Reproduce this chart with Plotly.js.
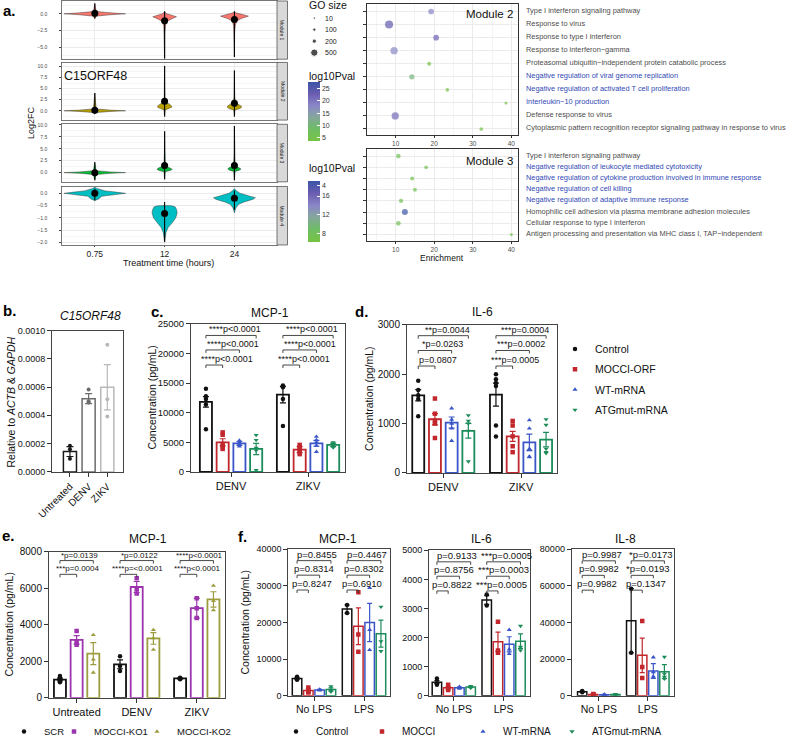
<!DOCTYPE html>
<html><head><meta charset="utf-8">
<script src="https://cdn.plot.ly/plotly-3.0.1.min.js"></script>
<style>html,body{margin:0;padding:0;background:#fff}</style>
</head><body><div id="chart" style="width:796px;height:746px"></div>
<script>
// ================= DATA =================
// ---- Panel a: violins (logFC level, half-width in category units) ----
const timeLabels = ['0.75', '12', '24'];
const moduleNames = ['Module 1', 'Module 2', 'Module 3', 'Module 4'];
const moduleColors = ['#F8766D', '#B79F00', '#00BA38', '#00BFC4'];

const m1T075Lv = [-0.8, -0.35, -0.15, 0, 0.15, 0.35, 1.5];
const m1T075Hw = [0, 0.02, 0.22, 0.44, 0.22, 0.02, 0];
const m1T12Lv = [-7.0, -3.0, -1.8, -1.2, -0.8, -0.45, -0.2, 0.05, 0.4];
const m1T12Hw = [0, 0.003, 0.012, 0.03, 0.09, 0.17, 0.1, 0.02, 0];
const m1T24Lv = [-6.5, -3.0, -1.8, -1.1, -0.7, -0.35, -0.1, 0.15, 0.4];
const m1T24Hw = [0, 0.003, 0.012, 0.03, 0.1, 0.2, 0.12, 0.02, 0];
const m2T075Lv = [-0.7, -0.4, -0.15, 0, 0.15, 0.4, 4.0];
const m2T075Hw = [0, 0.02, 0.22, 0.44, 0.22, 0.02, 0];
const m2T12Lv = [-1.3, 0.2, 0.5, 0.8, 1.1, 1.5, 2.0, 3.0, 5.0, 10.1];
const m2T12Hw = [0, 0.01, 0.06, 0.1, 0.1, 0.07, 0.02, 0.006, 0.003, 0];
const m2T24Lv = [-1.3, 0.2, 0.45, 0.75, 1.05, 1.4, 1.9, 3.0, 5.0, 9.1];
const m2T24Hw = [0, 0.01, 0.07, 0.1, 0.1, 0.06, 0.02, 0.006, 0.003, 0];
const m3T075Lv = [-1.6, -0.4, -0.15, 0, 0.15, 0.4, 2.2];
const m3T075Hw = [0, 0.02, 0.22, 0.44, 0.22, 0.02, 0];
const m3T12Lv = [-1.4, 0.2, 0.45, 0.7, 0.95, 1.3, 2.0, 4.0, 8.7];
const m3T12Hw = [0, 0.01, 0.08, 0.11, 0.09, 0.035, 0.01, 0.003, 0];
const m3T24Lv = [-1.6, 0.25, 0.5, 0.75, 1.0, 1.3, 2.0, 4.0, 9.8];
const m3T24Hw = [0, 0.01, 0.07, 0.095, 0.08, 0.035, 0.01, 0.003, 0];
const m4T075Lv = [-0.3, -0.22, -0.12, -0.05, 0, 0.05, 0.1, 0.2, 0.25];
const m4T075Hw = [0, 0.06, 0.1, 0.3, 0.44, 0.3, 0.15, 0.03, 0];
const m4T12Lv = [-2.0, -1.6, -1.4, -1.2, -1.0, -0.8, -0.65, -0.55, -0.51, -0.5];
const m4T12Hw = [0, 0.02, 0.05, 0.11, 0.16, 0.18, 0.17, 0.15, 0.1, 0];
const m4T24Lv = [-0.8, -0.6, -0.45, -0.35, -0.25, -0.18, -0.1, 0, 0.1, 0.19];
const m4T24Hw = [0, 0.02, 0.06, 0.14, 0.26, 0.3, 0.2, 0.08, 0.03, 0];

// point-range summaries [module][time]
const modMean = [[0.1, -1.05, -0.85], [0.13, 2.15, 1.7], [0.0, 1.5, 1.5], [0.0, -0.82, -0.2]];
const modLow = [[-0.64, -6.7, -6.5], [-0.7, -1.3, -1.3], [-1.6, -1.4, -1.6], [-0.28, -1.98, -0.67]];
const modHigh = [[1.6, 0.36, 0.36], [4.0, 10.1, 9.1], [2.2, 8.7, 9.8], [0.19, -0.35, 0.12]];

// ---- Panel a: GO enrichment ----
const goSizeKeys = [10, 100, 200, 500];
const m2Terms = ['Type I interferon signaling pathway', 'Response to virus', 'Response to type I interferon',
  'Response to interferon\u2212gamma', 'Proteasomal ubiquitin\u2212independent protein catabolic process',
  'Negative regulation of viral genome replication', 'Negative regulation of activated T cell proliferation',
  'Interleukin\u221210 production', 'Defense response to virus',
  'Cytoplasmic pattern recognition receptor signaling pathway in response to virus'];
const m2Enrich = [19.2, 8.3, 20.5, 9.6, 18.7, 14.2, 23.4, 38.6, 9.9, 32.2];
const m2GoSize = [340, 570, 340, 500, 170, 300, 140, 70, 500, 140];
const m2Log10P = [18, 23.5, 22, 17.5, 5, 10.5, 4.5, 4.5, 21, 4.5];
const m2Highlight = [0, 0, 0, 0, 0, 1, 1, 1, 0, 0];
const m3Terms = ['Type I interferon signaling pathway', 'Negative regulation of leukocyte mediated cytotoxicity',
  'Negative regulation of cytokine production involved in immune response', 'Negative regulation of cell killing',
  'Negative regulation of adaptive immune response', 'Homophilic cell adhesion via plasma membrane adhesion molecules',
  'Cellular response to type I interferon', 'Antigen processing and presentation via MHC class I, TAP\u2212independent'];
const m3Enrich = [10.7, 17.9, 14.3, 15.0, 11.4, 12.4, 10.7, 40.0];
const m3GoSize = [240, 140, 170, 170, 200, 370, 240, 70];
const m3Log10P = [8, 7.5, 7.5, 7.5, 7.5, 19, 8, 7];
const m3Highlight = [0, 1, 1, 1, 1, 0, 0, 0];

// ---- Panel b ----
const bCats = ['Untreated', 'DENV', 'ZIKV'];
const bMean = [0.000144, 0.000518, 0.000598];
const bSem = [0.000035, 0.000035, 0.00016];
const bPoints = [[0.000185, 0.000160, 0.000093], [0.000583, 0.000500, 0.000490], [0.000899, 0.000513, 0.000392]];

// ---- Panels c, d ----
const cdGroups = ['DENV', 'ZIKV'];
const cdSeries = ['Control', 'MOCCI-ORF', 'WT-mRNA', 'ATGmut-mRNA'];
const cMean = [[11830, 13050], [5000, 3770], [4830, 4830], [3880, 4560]];
const cSem = [[900, 1390], [600, 500], [350, 500], [950, 300]];
const cPoints = [
  [[14050, 12770, 12330, 11380, 7220], [14600, 14300, 12300, 7770]],
  [[6670, 6270, 4720, 4270, 3880], [4560, 4170, 3770, 3440, 3000]],
  [[5300, 5000, 4700, 4300], [5940, 5380, 5000, 4450, 3400]],
  [[6220, 5380, 4050, 3600, 280], [5000, 4720, 4450, 4100]]];
const cStats = [['****p<0.0001', '****p<0.0001', '****p<0.0001'], ['****p<0.0001', '****p<0.0001', '****p<0.0001']];
const dMean = [[1573, 1587], [1087, 740], [1020, 620], [853, 673]];
const dSem = [[115, 233], [113, 100], [113, 167], [150, 147]];
const dPoints = [
  [[1867, 1680, 1573, 1500, 1147], [2000, 1900, 1820, 1760, 960, 740]],
  [[1507, 1200, 1053, 1000, 707], [1053, 960, 740, 540, 420]],
  [[1310, 1080, 1000, 900, 650], [1067, 900, 487, 330, 320]],
  [[1167, 1053, 1000, 853, 233], [1087, 973, 487, 420, 400]]];
const dStats = [['**p=0.0044', '*p=0.0263', 'p=0.0807'], ['***p=0.0004', '***p=0.0002', '***p=0.0005']];

// ---- Panel e ----
const eCats = ['Untreated', 'DENV', 'ZIKV'];
const eSeries = ['SCR', 'MOCCI-KO1', 'MOCCI-KO2'];
const eMean = [[1000, 1830, 1060], [3170, 6060, 4900], [2420, 3250, 5380]];
const eSem = [[80, 240, 25], [230, 300, 540], [600, 320, 420]];
const ePoints = [
  [[1200, 1100, 1000, 950, 850], [2270, 1740, 1470], [1100, 1050, 1020]],
  [[3660, 3080, 2900], [6540, 5950, 5700], [5450, 4900, 4370]],
  [[3440, 2100, 1380], [3710, 3260, 2630], [6130, 5300, 4790]]];
const eStats = [['*p=0.0139', '***p=0.0004'], ['*p=0.0122', '****p=<0.0001'], ['****p<0.0001', '****p<0.0001']];

// ---- Panel f ----
const fCats = ['No LPS', 'LPS'];
const fSeries = ['Control', 'MOCCI', 'WT-mRNA', 'ATGmut-mRNA'];
const fTitles = ['MCP-1', 'IL-6', 'IL-8'];
const f1Mean = [[4730, 23650], [1430, 18950], [1610, 19970], [1700, 16950]];
const f1Sem = [[300, 1100], [450, 5000], [150, 5200], [450, 3700]];
const f1Points = [
  [[5190, 4600, 4400], [24730, 22600]],
  [[2300, 1100, 900], [28200, 16700, 12000]],
  [[1750, 1600, 1480], [29400, 18000, 12500]],
  [[2580, 1400, 1120], [24270, 14860, 12180]]];
const f1Stats = [['p=0.8455', 'p=0.8314', 'p=0.8247'], ['p=0.4467', 'p=0.8302', 'p=0.6910']];
const f2Mean = [[470, 3290], [280, 1860], [280, 1770], [300, 1880]];
const f2Sem = [[50, 150], [50, 330], [20, 260], [20, 250]];
const f2Points = [
  [[600, 430, 380], [3480, 3100]],
  [[380, 260, 200], [2550, 1560, 1480]],
  [[310, 280, 250], [2270, 1600, 1440]],
  [[330, 300, 270], [2400, 1680, 1560]]];
const f2Stats = [['p=0.9133', 'p=0.8756', 'p=0.8822'], ['***p=0.0005', '***p=0.0003', '***p=0.0005']];
const f3Mean = [[2300, 41000], [800, 22100], [650, 13600], [700, 13200]];
const f3Sem = [[300, 17500], [150, 9400], [150, 4000], [150, 3800]];
const f3Points = [
  [[2600, 2000], [58500, 23500]],
  [[1000, 800, 600], [40900, 15700, 9700]],
  [[800, 650, 500], [21000, 13000, 10600, 9800]],
  [[900, 700, 500], [21200, 12000, 10300, 9300]]];
const f3Stats = [['p=0.9987', 'p=0.9982', 'p=0.9982'], ['*p=0.0173', '*p=0.0193', 'p=0.1347']];

// ================= DRAWING =================
const FONT = '"Liberation Sans", Arial, Helvetica, sans-serif';
const W = 796, H = 746;
const fx = p => p / W, fy = p => 1 - p / H;
const xd = (l, r) => [fx(l), fx(r)];
const yd = (t, b) => [fy(b), fy(t)];
const ax = n => n === 1 ? 'xaxis' : 'xaxis' + n;
const ay = n => n === 1 ? 'yaxis' : 'yaxis' + n;
const rx = n => n === 1 ? 'x' : 'x' + n;
const ry = n => n === 1 ? 'y' : 'y' + n;

const traces = [];
const layout = {
  width: W, height: H, margin: {l: 0, r: 0, t: 0, b: 0},
  paper_bgcolor: '#fff', plot_bgcolor: '#fff', barmode: 'overlay',
  font: {family: FONT, size: 10, color: '#222'},
  showlegend: true, shapes: [], annotations: [], hovermode: false
};
const ann = layout.annotations, shp = layout.shapes;
function A(text, xp, yp, o) {
  o = o || {};
  ann.push({text, x: fx(xp), y: fy(yp), xref: 'paper', yref: 'paper', showarrow: false,
    xanchor: o.xanchor || 'center', yanchor: o.yanchor || 'middle', textangle: o.angle || 0,
    font: {family: FONT, size: o.size || 10, color: o.color || '#222'}});
}

// ----- Panel a: violins -----
const violinProfiles = [
  [[m1T075Lv, m1T075Hw], [m1T12Lv, m1T12Hw], [m1T24Lv, m1T24Hw]],
  [[m2T075Lv, m2T075Hw], [m2T12Lv, m2T12Hw], [m2T24Lv, m2T24Hw]],
  [[m3T075Lv, m3T075Hw], [m3T12Lv, m3T12Hw], [m3T24Lv, m3T24Hw]],
  [[m4T075Lv, m4T075Hw], [m4T12Lv, m4T12Hw], [m4T24Lv, m4T24Hw]]];
const facetPx = [[1, 60], [63.3, 121.7], [126, 184.3], [189, 248.3]];
const facetRange = [[-6.83, 1.93], [-2.09, 10.89], [-1.93, 10.14], [-2.11, 0.28]];
const facetDtick = [2.5, 2.5, 2.5, 0.5];
for (let m = 0; m < 4; m++) {
  const n = m + 1;
  layout[ax(n)] = {domain: xd(62, 277), range: [-0.47, 2.61], anchor: ry(n), tickmode: 'array',
    tickvals: [0, 1, 2], ticktext: timeLabels, showticklabels: m === 3, ticks: m === 3 ? 'outside' : '',
    ticklen: 1.5, tickcolor: '#444', tickfont: {size: 8.5, color: '#222'}, showgrid: true, gridcolor: '#EBEBEB',
    zeroline: false, showline: true, mirror: true, linecolor: '#555', linewidth: 0.8};
  layout[ay(n)] = {domain: yd(facetPx[m][0], facetPx[m][1]), range: facetRange[m], anchor: rx(n),
    tick0: 0, dtick: facetDtick[m], tickformat: '.1f', ticks: 'outside', ticklen: 2, tickcolor: '#444',
    tickfont: {size: 5, color: '#4D4D4D'}, ticklabelstandoff: 11, showgrid: true, gridcolor: '#EBEBEB',
    minor: {showgrid: true, gridcolor: '#F4F4F4', tick0: 0, dtick: facetDtick[m] / 2, ticks: ''},
    zeroline: false, showline: true, mirror: true, linecolor: '#555', linewidth: 0.8};
  for (let t = 0; t < 3; t++) {
    const [lv, hw] = violinProfiles[m][t];
    const xs = lv.map((_, i) => t - hw[i]).concat(lv.map((_, i) => t + hw[i]).reverse());
    const ys = lv.concat(lv.slice().reverse());
    traces.push({type: 'scatter', mode: 'lines', x: xs, y: ys, fill: 'toself', fillcolor: moduleColors[m],
      line: {color: '#333', width: 0.45}, xaxis: rx(n), yaxis: ry(n), showlegend: false, hoverinfo: 'skip'});
    traces.push({type: 'scatter', mode: 'lines', x: [t, t], y: [modLow[m][t], modHigh[m][t]],
      line: {color: '#000', width: 1.1}, xaxis: rx(n), yaxis: ry(n), showlegend: false});
    traces.push({type: 'scatter', mode: 'markers', x: [t], y: [modMean[m][t]],
      marker: {size: 7, color: '#000'}, xaxis: rx(n), yaxis: ry(n), showlegend: false});
  }
  const [tp, bt] = facetPx[m];
  shp.push({type: 'rect', xref: 'paper', yref: 'paper', x0: fx(277), x1: fx(287.5), y0: fy(bt), y1: fy(tp),
    fillcolor: '#D9D9D9', line: {color: '#555', width: 0.8}});
  A(moduleNames[m], 282.3, (tp + bt) / 2, {angle: 90, size: 5, color: '#1A1A1A'});
}
A('<b>a.</b>', 9, 11, {size: 15, color: '#000'});
A('C15ORF48', 95, 77, {size: 12.5, color: '#111'});
A('Log2FC', 31.7, 124, {angle: -90, size: 9, color: '#111'});
A('Treatment time (hours)', 168, 267, {size: 9, color: '#111'});

// ----- Panel a: GO dot plots -----
const goScale = [[0, '#76C442'], [0.22, '#6FBC68'], [0.42, '#86A4A0'], [0.6, '#8A86C8'], [0.8, '#6A5CB0'], [1, '#3B55A7']];
const goDiam = g => 2.3 + 0.01 * g;
function dotAxes(n, t, b, rng, nrows) {
  layout[ax(n)] = {domain: xd(366.7, 518.3), range: [2.5, 41.8], anchor: ry(n), dtick: 10, tick0: 0,
    ticks: 'outside', ticklen: 2, tickcolor: '#333', tickfont: {size: 6.5, color: '#4D4D4D'},
    showgrid: true, gridcolor: '#EBEBEB', minor: {showgrid: true, gridcolor: '#F4F4F4', dtick: 5, tick0: 0, ticks: ''},
    zeroline: false, showline: true, mirror: true, linecolor: '#333', linewidth: 1};
  layout[ay(n)] = {domain: yd(t, b), range: rng, anchor: rx(n), tickmode: 'array',
    tickvals: Array.from({length: nrows}, (_, i) => i + 1), showticklabels: false, ticks: 'outside', ticklen: 3,
    tickcolor: '#333', showgrid: true, gridcolor: '#EBEBEB', zeroline: false, showline: true, mirror: true,
    linecolor: '#333', linewidth: 1};
}
dotAxes(5, 4, 136.7, [10.45, 0.42], 10);
dotAxes(6, 151.5, 244.3, [8.58, 0.41], 8);
traces.push({type: 'scatter', mode: 'markers', x: m2Enrich, y: m2Terms.map((_, i) => i + 1),
  marker: {size: m2GoSize.map(goDiam), color: m2Log10P, colorscale: goScale, cmin: 3.4, cmax: 27.7,
    line: {width: 0}, showscale: true,
    colorbar: {x: fx(308.3), xanchor: 'left', y: fy(113.3), yanchor: 'middle', len: 60 / H, lenmode: 'fraction',
      thickness: 12, outlinewidth: 0, tickvals: [5, 10, 15, 20, 25], ticks: 'inside', ticklen: 3,
      tickcolor: '#fff', tickfont: {size: 7, color: '#333'}, xpad: 0, ypad: 0}},
  xaxis: 'x5', yaxis: 'y5', showlegend: false});
traces.push({type: 'scatter', mode: 'markers', x: m3Enrich, y: m3Terms.map((_, i) => i + 1),
  marker: {size: m3GoSize.map(goDiam), color: m3Log10P, colorscale: goScale, cmin: 6.25, cmax: 19.24,
    line: {width: 0}, showscale: true,
    colorbar: {x: fx(308.3), xanchor: 'left', y: fy(214.2), yanchor: 'middle', len: 61.7 / H, lenmode: 'fraction',
      thickness: 12, outlinewidth: 0, tickvals: [8, 12, 16, 18.2], ticktext: ['8', '12', '16', '4'],
      ticks: 'inside', ticklen: 3, tickcolor: '#fff', tickfont: {size: 7, color: '#333'}, xpad: 0, ypad: 0}},
  xaxis: 'x6', yaxis: 'y6', showlegend: false});
function termLabels(terms, hl, yref) {
  terms.forEach((term, i) => ann.push({text: term, xref: 'paper', x: fx(523.5), xanchor: 'left', yref: yref,
    y: i + 1, yanchor: 'middle', yshift: 1, showarrow: false,
    font: {family: FONT, size: 7.4, color: hl[i] ? '#3049B5' : '#4D4D4D'}}));
}
termLabels(m2Terms, m2Highlight, 'y5');
termLabels(m3Terms, m3Highlight, 'y6');
A('Module 2', 490, 14.5, {size: 11.5, color: '#111'});
A('Module 3', 489, 162.7, {size: 11.5, color: '#111'});
A('Enrichment', 442.3, 261, {size: 8.5, color: '#111'});
A('GO size', 327.5, 5.5, {size: 10.5, color: '#111'});
A('log10Pval', 331.7, 76.7, {size: 10.5, color: '#111'});
A('log10Pval', 331.7, 170, {size: 10.5, color: '#111'});
// GO size key (keys drawn through a hidden axis)
layout.xaxis7 = {domain: xd(309.3, 319.3), range: [0, 1], visible: false, anchor: 'y7'};
layout.yaxis7 = {domain: yd(12.5, 59.2), range: [3.5, -0.5], visible: false, anchor: 'x7'};
traces.push({type: 'scatter', mode: 'markers', x: goSizeKeys.map(() => 0.5), y: goSizeKeys.map((_, i) => i),
  marker: {size: goSizeKeys.map(goDiam), color: '#000'}, xaxis: 'x7', yaxis: 'y7', showlegend: false});
goSizeKeys.forEach((k, i) => ann.push({text: String(k), xref: 'x7', x: 0.5, xanchor: 'left', xshift: 9,
  yref: 'y7', y: i, yanchor: 'middle', showarrow: false, font: {family: FONT, size: 7, color: '#222'}}));

// ----- common GraphPad-style axis -----
function gpAxes(n, xdom, xr, cats, ydom, yr, dtick, opts) {
  opts = opts || {};
  layout[ax(n)] = {domain: xdom, range: xr, anchor: ry(n), tickmode: 'array',
    tickvals: cats.map((_, i) => i), ticktext: cats, ticks: 'outside', ticklen: 4, tickcolor: '#333',
    tickangle: opts.tickangle || 0, tickfont: {size: opts.xfont || 11, color: '#111'},
    showgrid: false, zeroline: false, showline: true, mirror: true, linecolor: '#444', linewidth: 1};
  layout[ay(n)] = {domain: ydom, range: yr, anchor: rx(n), tick0: 0, dtick: dtick,
    tickformat: opts.yfmt || 'd', ticks: 'outside', ticklen: 4, tickcolor: '#333',
    tickfont: {size: opts.yfont || 9.5, color: '#111'}, showgrid: false, zeroline: false, showline: true,
    mirror: true, linecolor: '#444', linewidth: 1};
}

// ----- Panel b -----
const bColors = ['#1a1a1a', '#6b6b6b', '#b8b8b8'];
gpAxes(8, xd(52, 123), [-0.96, 2.84], bCats, yd(335, 478.3), [0, 0.001], 0.0002,
  {tickangle: -45, xfont: 10, yfmt: '.4f', yfont: 9});
bCats.forEach((c, i) => {
  traces.push({type: 'bar', x: [i], y: [bMean[i]], width: 0.7,
    marker: {color: '#fff', line: {color: bColors[i], width: 1.5}},
    error_y: {type: 'data', array: [bSem[i]], color: bColors[i], thickness: 1.2, width: 3.5},
    xaxis: 'x8', yaxis: 'y8', showlegend: false});
  traces.push({type: 'scatter', mode: 'markers', x: bPoints[i].map(() => i), y: bPoints[i],
    marker: {size: 4, color: bColors[i]}, xaxis: 'x8', yaxis: 'y8', showlegend: false});
});
A('<b>b.</b>', 9, 315, {size: 15, color: '#000'});
A('<i>C15ORF48</i>', 90, 320, {size: 12, color: '#111'});
A('Relative to <i>ACTB</i> & <i>GAPDH</i>', 11, 408, {angle: -90, size: 10.5, color: '#111'});

// ----- grouped bar panel helper -----
function groupPanel(n, cats, series, colors, symbols, means, sems, pts, o) {
  const ns = series.length, slot = o.groupW / ns;
  const off = s => -o.groupW / 2 + slot * (s + 0.5);
  series.forEach((name, s) => {
    traces.push({type: 'bar', x: cats.map((_, g) => g + off(s)), y: means[s], width: o.barW,
      marker: {color: '#fff', line: {color: colors[s], width: o.lw}},
      error_y: {type: 'data', array: sems[s], color: colors[s], thickness: 1.2, width: o.cap},
      xaxis: rx(n), yaxis: ry(n), showlegend: false});
    const px = [], py = [];
    pts[s].forEach((arr, g) => arr.forEach(v => { px.push(g + off(s)); py.push(v); }));
    const tr = {type: 'scatter', mode: 'markers', x: px, y: py, name: name,
      marker: {symbol: symbols[s], size: o.ms, color: colors[s]}, xaxis: rx(n), yaxis: ry(n),
      showlegend: false};
    if (o.legends) { tr.showlegend = true; tr.legend = o.legends[s]; tr.legendgroup = name + n; }
    traces.push(tr);
  });
  if (o.stats) {
    const yTop = o.yTop;
    cats.forEach((_, g) => {
      o.statRows.forEach((k, r) => {
        const x0 = g + off(0), x1 = g + off(k);
        const lvl = yTop * (1 - o.statFrac[r]);
        shp.push({type: 'path', xref: rx(n), yref: ry(n), ysizemode: 'pixel', yanchor: lvl,
          path: `M ${x0},-3 L ${x0},0 L ${x1},0 L ${x1},-3`, line: {color: '#333', width: 0.9}});
        ann.push({text: o.stats[g][r], xref: rx(n), yref: ry(n), x: (x0 + x1) / 2, y: lvl,
          xanchor: 'center', yanchor: 'bottom', xshift: o.statShift[r], yshift: -1, showarrow: false,
          font: {family: FONT, size: o.statFont, color: '#111'}});
      });
    });
  }
}
const cdColors = ['#111111', '#C1272D', '#3A55C8', '#1B8C5A'];
const cdSymbols = ['circle', 'square', 'triangle-up', 'triangle-down'];

// ----- Panel c -----
gpAxes(9, xd(191, 345), [-0.52, 1.48], cdGroups, yd(328.3, 478.3), [0, 25000], 5000, {xfont: 11, yfont: 9.5});
groupPanel(9, cdGroups, cdSeries, cdColors, cdSymbols, cMean, cSem, cPoints,
  {groupW: 0.87, barW: 0.157, lw: 1.8, cap: 3, ms: 4.5, legends: ['legend', 'legend', 'legend', 'legend'],
    stats: cStats, statRows: [3, 2, 1], statFrac: [0.078, 0.176, 0.278], yTop: 25000,
    statShift: [4, 10, 13], statFont: 9});
A('<b>c.</b>', 157, 316, {size: 15, color: '#000'});
A('MCP-1', 270, 317, {size: 12, color: '#111'});
A('Concentration (pg/mL)', 152, 403, {angle: -90, size: 10.5, color: '#111'});

// ----- Panel d -----
gpAxes(10, xd(407, 557), [-0.467, 1.463], cdGroups, yd(329.3, 479.3), [0, 3000], 1000, {xfont: 11, yfont: 10});
groupPanel(10, cdGroups, cdSeries, cdColors, cdSymbols, dMean, dSem, dPoints,
  {groupW: 0.86, barW: 0.154, lw: 1.8, cap: 3, ms: 4.5,
    stats: dStats, statRows: [3, 2, 1], statFrac: [0.073, 0.173, 0.278], yTop: 3000,
    statShift: [4, 8, 11], statFont: 9});
A('<b>d.</b>', 361.7, 316, {size: 15, color: '#000'});
A('IL-6', 482.5, 316.7, {size: 12, color: '#111'});
A('Concentration (pg/mL)', 368.3, 404, {angle: -90, size: 10.5, color: '#111'});
layout.legend = {x: fx(555), xanchor: 'left', y: fy(339), yanchor: 'top', bgcolor: 'rgba(0,0,0,0)',
  font: {family: FONT, size: 10.5, color: '#111'}, tracegroupgap: 1.3, itemsizing: 'trace', traceorder: 'grouped'};

// ----- Panel e -----
const eColors = ['#111111', '#9B34AD', '#9C9C3E'];
const eSymbols = ['circle', 'square', 'triangle-up'];
gpAxes(11, xd(49, 225), [-0.46, 2.47], eCats, yd(559, 707.3), [0, 8000], 2000, {xfont: 11, yfont: 10});
groupPanel(11, eCats, eSeries, eColors, eSymbols, eMean, eSem, ePoints,
  {groupW: 0.833, barW: 0.2, lw: 1.8, cap: 3, ms: 4.5, legends: ['legend2', 'legend3', 'legend4'],
    stats: eStats, statRows: [2, 1], statFrac: [0.062, 0.156], yTop: 8000,
    statShift: [3, 9], statFont: 8});
A('<b>e.</b>', 8, 543, {size: 15, color: '#000'});
A('MCP-1', 148, 546.7, {size: 12, color: '#111'});
A('Concentration (pg/mL)', 9, 633, {angle: -90, size: 10.5, color: '#111'});
const eLegX = [24, 74, 157];
eLegX.forEach((xp, i) => {
  layout['legend' + (i + 2)] = {x: fx(xp - 20), xanchor: 'left', y: fy(741.7), yanchor: 'middle',
    bgcolor: 'rgba(0,0,0,0)', font: {family: FONT, size: 9.5, color: '#111'}, itemsizing: 'trace'};
});

// ----- Panel f -----
const fAxisDom = [[288.3, 390], [429, 530], [571.7, 674]];
const fXRange = [[-0.514, 1.52], [-0.498, 1.53], [-0.553, 1.535]];
const fYTop = [556.5, 557.8, 556.7];
const fYMax = [40000, 5000, 80000];
const fDtick = [10000, 1000, 20000];
const fMeans = [f1Mean, f2Mean, f3Mean], fSems = [f1Sem, f2Sem, f3Sem], fPts = [f1Points, f2Points, f3Points];
const fStats = [f1Stats, f2Stats, f3Stats];
const fTitleX = [338.3, 481, 625];
for (let p = 0; p < 3; p++) {
  const n = 12 + p;
  gpAxes(n, xd(fAxisDom[p][0], fAxisDom[p][1]), fXRange[p], fCats, yd(fYTop[p], 705.3), [0, fYMax[p]],
    fDtick[p], {xfont: 10.5, yfont: 9});
  groupPanel(n, fCats, fSeries, cdColors, cdSymbols, fMeans[p], fSems[p], fPts[p],
    {groupW: 0.904, barW: 0.19, lw: 1.5, cap: 2.5, ms: 4.5,
      legends: p === 0 ? ['legend5', 'legend6', 'legend7', 'legend8'] : null,
      stats: fStats[p], statRows: [3, 2, 1], statFrac: [0.079, 0.178, 0.279], yTop: fYMax[p],
      statShift: [3, 6, 9], statFont: 9.5});
  A(fTitles[p], fTitleX[p], 546.7, {size: 12, color: '#111'});
}
A('<b>f.</b>', 242, 543.3, {size: 15, color: '#000'});
A('Concentration (pg/mL)', 245, 631, {angle: -90, size: 10.5, color: '#111'});
const fLegX = [296, 382, 483, 572];
fLegX.forEach((xp, i) => {
  layout['legend' + (i + 5)] = {x: fx(xp - 20), xanchor: 'left', y: fy(741.7), yanchor: 'middle',
    bgcolor: 'rgba(0,0,0,0)', font: {family: FONT, size: 10, color: '#111'}, itemsizing: 'trace'};
});

Plotly.newPlot('chart', traces, layout, {staticPlot: true, displayModeBar: false});
</script></body></html>
